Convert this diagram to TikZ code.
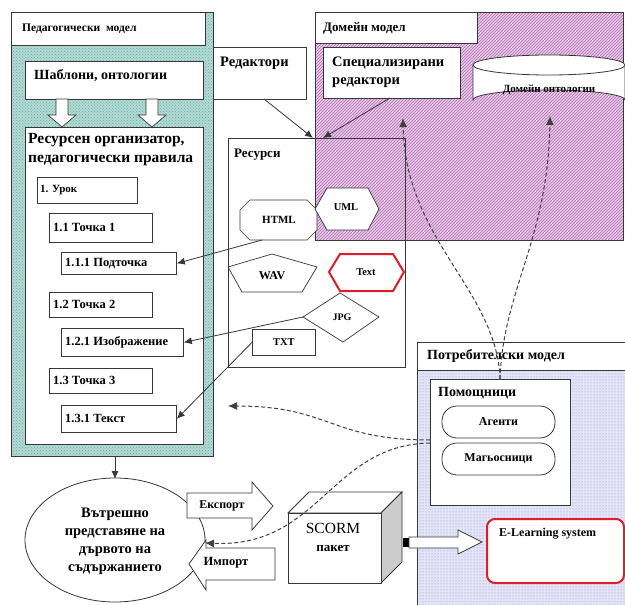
\documentclass[tikz,border=0pt]{standalone}
\usepackage{fontspec}
\setmainfont{Liberation Serif}
\usetikzlibrary{arrows.meta,patterns,shapes.geometric}
\definecolor{tealbg}{RGB}{178,218,212}
\definecolor{tealpat}{RGB}{110,170,165}
\definecolor{pinkbg}{RGB}{232,196,232}
\definecolor{pinkpat}{RGB}{175,120,175}
\definecolor{lavbg}{RGB}{228,228,248}
\definecolor{lavpat}{RGB}{140,140,200}
\definecolor{ln}{RGB}{55,55,55}
\definecolor{redb}{RGB}{220,30,40}
\tikzset{
  box/.style={draw=ln, fill=white, line width=0.8pt, inner sep=0pt, anchor=north west},
  txt/.style={font=\bfseries\fontsize{12.5}{13}\selectfont, inner sep=0pt, anchor=west},
  arr/.style={draw=ln, line width=0.8pt, -{Latex[length=8pt,width=7pt]}},
  darr/.style={draw=black!75, line width=1pt, dash pattern=on 4pt off 2.5pt, -{Latex[length=9pt,width=8pt]}},
  shp/.style={draw=ln, fill=white, line width=0.7pt},
  hollow/.style={draw=ln, fill=white, line width=0.8pt},
}
\begin{document}
\begin{tikzpicture}[x=1pt,y=-1pt]
\useasboundingbox (0,0) rectangle (625,605);
% ---------- Pedagogical model ----------
\fill[tealbg] (11,12) rectangle (213,456);
\fill[pattern=crosshatch dots, pattern color=tealpat] (11,12) rectangle (213,456);
\draw[ln, line width=0.9pt] (11,12) rectangle (213,456);
\node[box, minimum width=194, minimum height=33] (pedt) at (11,12) {};
\node[txt, font=\bfseries\fontsize{11.5}{12}\selectfont] (pedl) at (22,29) {Педагогически\ \ модел};
\node[box, minimum width=178, minimum height=38] (shab) at (25,61) {};
\node[txt, font=\bfseries\fontsize{14}{15}\selectfont] (shabl) at (34,76) {Шаблони, онтологии};
\node[box, minimum width=178, minimum height=317] (org) at (25,127) {};
\node[txt, font=\bfseries\fontsize{15.5}{16}\selectfont] (orgl1) at (28,140) {Ресурсен организатор,};
\node[txt, font=\bfseries\fontsize{15.5}{16}\selectfont] (orgl2) at (28,160) {педагогически правила};
% hollow down arrows
\foreach \cx/\nm in {62/da1, 152/da2}{
  \draw[hollow, line width=0.7pt] (\cx-6,99) -- (\cx+6,99) -- (\cx+6,115) -- (\cx+14,115) -- (\cx,127) -- (\cx-14,115) -- (\cx-6,115) -- cycle;
  \coordinate (\nm) at (\cx,127);
}
% items
\node[box, minimum width=100, minimum height=26] (urok) at (37,177) {};
\node[txt, font=\bfseries\fontsize{11}{12}\selectfont] at ([xshift=3pt]urok.west) {1. Урок};
\node[box, minimum width=103, minimum height=29] (t1) at (49,213) {};
\node[txt] at ([xshift=4pt]t1.west) {1.1 Точка 1};
\node[box, minimum width=115, minimum height=22] (t11) at (61,252) {};
\node[txt] at ([xshift=4pt]t11.west) {1.1.1 Подточка};
\node[box, minimum width=103, minimum height=25] (t2) at (49,292) {};
\node[txt] at ([xshift=4pt]t2.west) {1.2 Точка 2};
\node[box, minimum width=122, minimum height=28] (t21) at (61,328) {};
\node[txt] at ([xshift=4pt]t21.west) {1.2.1 Изображение};
\node[box, minimum width=103, minimum height=25] (t3) at (49,368) {};
\node[txt] at ([xshift=4pt]t3.west) {1.3 Точка 3};
\node[box, minimum width=115, minimum height=27] (t31) at (61,405) {};
\node[txt] at ([xshift=4pt]t31.west) {1.3.1 Текст};
% ---------- Resources box ----------
\node[box, minimum width=177, minimum height=229] (res) at (228,138) {};
% ---------- Domain model ----------
\fill[pinkbg] (315,12) rectangle (623,240);
\fill[pattern=north east lines, pattern color=pinkpat] (315,12) rectangle (623,240);
\draw[ln, line width=0.8pt] (315,12) rectangle (623,240);
\draw[ln, line width=0.8pt] (315,138) -- (405,138) -- (405,240);
\node[txt, font=\bfseries\fontsize{13}{14}\selectfont] (resl) at (234,155) {Ресурси};
\node[box, minimum width=162, minimum height=31] (domt) at (315,12) {};
\node[txt, font=\bfseries\fontsize{13}{14}\selectfont] (doml) at (323,28) {Домейн модел};
\node[box, minimum width=137, minimum height=51] (spec) at (323,47) {};
\node[txt, font=\bfseries\fontsize{14.5}{15}\selectfont] (specl1) at (332,63) {Специализирани};
\node[txt, font=\bfseries\fontsize{14.5}{15}\selectfont] (specl2) at (332,83) {редактори};
% cylinder
\draw[shp, line width=0.8pt] (473,65) -- (473,100) arc[start angle=180, end angle=360, x radius=76, y radius=10] -- (625,65);
\draw[shp, line width=0.8pt] (549,65) ellipse [x radius=76, y radius=10];
\node[txt, anchor=center, font=\bfseries\fontsize{11}{12}\selectfont] (donto) at (549,90) {Домейн онтологии};
\coordinate (ontoS) at (550,116);
% editors box
\node[box, minimum width=93, minimum height=52] (red) at (213,47) {};
\node[txt, font=\bfseries\fontsize{14.5}{15}\selectfont] (redl) at (220,63) {Редактори};
\coordinate (resTL) at (313,138);
\coordinate (resTL2) at (323,138);
\draw[arr] (264,99) -- (resTL);
\draw[arr] (390,98) -- (resTL2);
% ---------- resource shapes ----------
% HTML octagon
\draw[shp] (250,200) -- (307,200) -- (317,210) -- (317,230) -- (307,240) -- (250,240) -- (240,230) -- (240,210) -- cycle;
\node[txt, anchor=center, font=\bfseries\fontsize{11}{12}\selectfont] (html) at (279,220) {HTML};
\coordinate (htmlS) at (262,240);
% UML hexagon
\draw[shp] (315,209) -- (327,188) -- (368,188) -- (379,209) -- (368,230) -- (327,230) -- cycle;
\node[txt, anchor=center, font=\bfseries\fontsize{10.5}{11}\selectfont] (uml) at (346,207) {UML};
% WAV pentagon
\draw[shp] (272,254) -- (317,267) -- (302,292) -- (242,292) -- (228,267) -- cycle;
\node[txt, anchor=center, font=\bfseries\fontsize{12}{13}\selectfont] (wav) at (272,276) {WAV};
% Text red hexagon
\draw[draw=redb, fill=white, line width=2pt] (329,272) -- (340,254) -- (393,254) -- (404,272) -- (393,291) -- (340,291) -- cycle;
\node[txt, anchor=center, font=\bfseries\fontsize{10.5}{11}\selectfont] (textn) at (366,272) {Text};
% JPG diamond
\draw[shp] (303,317) -- (340,293) -- (379,317) -- (343,342) -- cycle;
\node[txt, anchor=center, font=\bfseries\fontsize{10}{11}\selectfont] (jpg) at (342,317) {JPG};
\coordinate (jpgW) at (303,317);
% TXT box
\node[box, minimum width=63, minimum height=26, fill=white] (txtb) at (252,329) {};
\node[txt, anchor=center, font=\bfseries\fontsize{10.5}{11}\selectfont] (txtl) at (txtb.center) {TXT};
% connectors to items
\draw[arr] (htmlS) -- (t11.east);
\draw[arr] (jpgW) -- (t21.east);
\draw[arr] (txtb.west) -- (t31.east);
% ---------- user model ----------
\fill[lavbg] (417,342) rectangle (625,605);
\fill[pattern=dots, pattern color=lavpat] (417,342) rectangle (625,605);
\draw[ln, line width=0.9pt] (625,342) -- (417,342) -- (417,605);
\node[box, minimum width=208, minimum height=28] (usert) at (417,342) {};
\node[txt, font=\bfseries\fontsize{14}{15}\selectfont] (userl) at (427,356) {Потребителски модел};
\node[box, minimum width=140, minimum height=126] (help) at (430,379) {};
\node[txt, font=\bfseries\fontsize{14}{15}\selectfont] (helpl) at (438,393) {Помощници};
\node[draw=ln, fill=white, line width=0.8pt, rounded corners=15pt, minimum width=113, minimum height=32, inner sep=0pt, font=\bfseries\fontsize{12}{13}\selectfont] (agent) at (498.5,422) {Агенти};
\node[draw=ln, fill=white, line width=0.8pt, rounded corners=15pt, minimum width=113, minimum height=32, inner sep=0pt, font=\bfseries\fontsize{12}{13}\selectfont] (wiz) at (498.5,459) {Магьосници};
\node[box, draw=redb, line width=2pt, rounded corners=8pt, minimum width=137, minimum height=64] (elearn) at (486,518) {};
\node[txt, font=\bfseries\fontsize{12}{13}\selectfont] (elearnl) at (499,534) {E-Learning system};
% dashed connectors
\coordinate (helpN) at (500,379);
\coordinate (specS) at (403,118);
\draw[darr] (helpN) .. controls (497,290) and (405,240) .. (specS);
\draw[darr] (helpN) .. controls (503,290) and (548,240) .. (ontoS);
\coordinate (helpW1) at (430,440);
\coordinate (helpW2) at (430,443);
\coordinate (leftT) at (228,406);
\coordinate (ellE) at (205,543);
\draw[darr] (helpW1) .. controls (330,440) and (330,406) .. (leftT);
% ---------- bottom ----------
\draw[arr] (115,456) -- (115,479);
\node[draw=ln, fill=white, line width=0.8pt, ellipse, minimum width=180, minimum height=124, inner sep=0pt] (inner) at (115,540) {};
\node[txt, anchor=center, align=center, font=\bfseries\fontsize{14.5}{18}\selectfont] (innerl) at (115,541) {Вътрешно\\представяне на\\дървото на\\съдържанието};
% export arrow
\draw[hollow] (187,493) -- (252,493) -- (252,482) -- (273,506) -- (252,530) -- (252,518) -- (187,518) -- cycle;
\node[txt, anchor=center, font=\bfseries\fontsize{12}{13}\selectfont] (exp) at (222,506) {Експорт};
% import arrow
\draw[hollow] (275,548) -- (206,548) -- (206,540) -- (189,564) -- (206,590) -- (206,580) -- (275,580) -- cycle;
\node[txt, anchor=center, font=\bfseries\fontsize{12.5}{13}\selectfont] (imp) at (226,563) {Импорт};
% SCORM cube
\draw[hollow] (288,513) -- (309,492) -- (402,492) -- (381,513) -- cycle;
\draw[draw=ln, fill=black!20, line width=0.8pt] (381,513) -- (402,492) -- (402,562) -- (381,583) -- cycle;
\node[box, minimum width=93, minimum height=70] (scorm) at (288,513) {};
\node[txt, anchor=center, font=\fontsize{15.5}{16}\selectfont] (scorml) at (333,528) {SCORM};
\node[txt, anchor=center, font=\bfseries\fontsize{13}{14}\selectfont] (scorml2) at (333,549) {пакет};
\draw[darr] (helpW2) .. controls (330,445) and (320,548) .. (ellE);
% SCORM to E-learning
\fill[black] (403,538) rectangle (409,547);
\draw[hollow] (409,537) -- (458,537) -- (458,530) -- (482,542) -- (458,554) -- (458,548) -- (409,548) -- cycle;
\coordinate (elW) at (elearn.west);
\end{tikzpicture}
\end{document}
